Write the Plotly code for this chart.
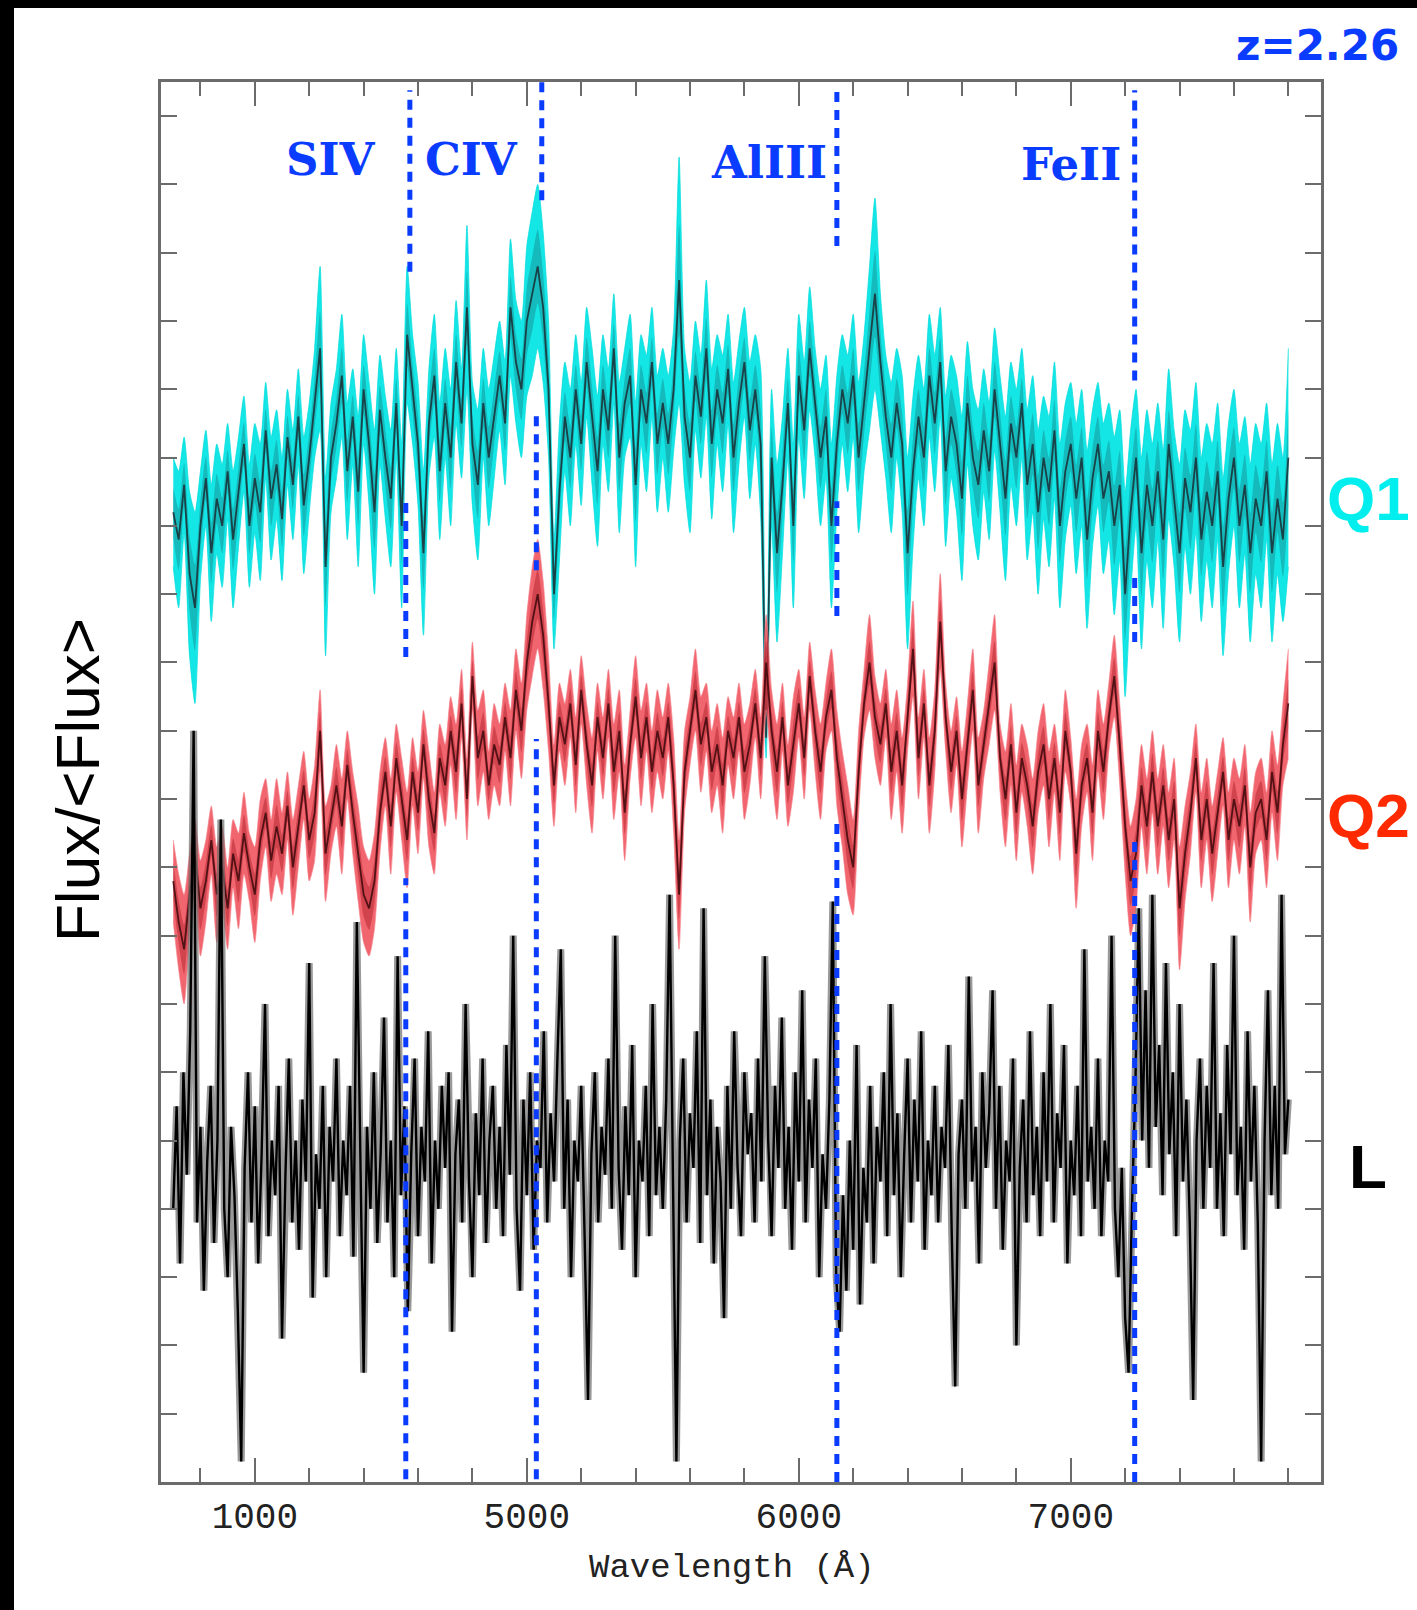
import numpy as np
import plotly.graph_objects as go

# ---------------- data ----------------
# wavelength grids (Angstrom)
wave_q = np.arange(3700, 7801, 20)        # Q1 / Q2 sampling
wave_l = np.arange(3700, 7800.1, 12.5)    # L sampling

# normalised flux of quasar Q1 and its 1-sigma error
q1_flux = [
    1.42, 1.38, 1.46, 1.33, 1.28, 1.40, 1.47, 1.36, 1.44, 1.40,
    1.48, 1.38, 1.45, 1.52, 1.40, 1.47, 1.42, 1.54, 1.44, 1.49,
    1.41, 1.53, 1.46, 1.56, 1.43, 1.50, 1.58, 1.66, 1.34, 1.50,
    1.55, 1.62, 1.48, 1.56, 1.45, 1.60, 1.52, 1.42, 1.57, 1.50,
    1.44, 1.58, 1.40, 1.68, 1.60, 1.52, 1.36, 1.55, 1.62, 1.48,
    1.58, 1.50, 1.64, 1.55, 1.72, 1.52, 1.46, 1.58, 1.50, 1.56,
    1.62, 1.55, 1.72, 1.64, 1.60, 1.70, 1.74, 1.78, 1.72, 1.60,
    1.30, 1.45, 1.56, 1.50, 1.60, 1.52, 1.64, 1.56, 1.48, 1.60,
    1.54, 1.66, 1.50, 1.58, 1.62, 1.46, 1.60, 1.55, 1.64, 1.52,
    1.58, 1.52, 1.60, 1.76, 1.56, 1.50, 1.62, 1.56, 1.66, 1.52,
    1.60, 1.55, 1.63, 1.50, 1.58, 1.64, 1.54, 1.60, 1.52, 1.09,
    1.50, 1.36, 1.46, 1.58, 1.40, 1.62, 1.54, 1.66, 1.58, 1.50,
    1.56, 1.40, 1.52, 1.60, 1.55, 1.62, 1.50, 1.58, 1.66, 1.74,
    1.64, 1.56, 1.50, 1.58, 1.52, 1.36, 1.48, 1.56, 1.50, 1.62,
    1.55, 1.64, 1.48, 1.56, 1.52, 1.44, 1.58, 1.50, 1.46, 1.54,
    1.48, 1.60, 1.52, 1.44, 1.55, 1.50, 1.58, 1.46, 1.52, 1.42,
    1.50, 1.45, 1.54, 1.40, 1.48, 1.52, 1.44, 1.50, 1.38, 1.47,
    1.52, 1.44, 1.48, 1.40, 1.46, 1.30, 1.42, 1.50, 1.36, 1.46,
    1.40, 1.48, 1.38, 1.52, 1.44, 1.36, 1.47, 1.42, 1.50, 1.38,
    1.45, 1.40, 1.48, 1.34, 1.44, 1.50, 1.40, 1.46, 1.36, 1.44,
    1.40, 1.48, 1.36, 1.44, 1.38, 1.50,
]
q1_err = [
    0.08, 0.10, 0.07, 0.12, 0.14, 0.08, 0.07, 0.10, 0.08, 0.09,
    0.07, 0.10, 0.08, 0.07, 0.09, 0.08, 0.10, 0.07, 0.09, 0.08,
    0.09, 0.07, 0.08, 0.07, 0.10, 0.08, 0.08, 0.12, 0.13, 0.08,
    0.08, 0.09, 0.10, 0.07, 0.11, 0.08, 0.09, 0.12, 0.08, 0.09,
    0.10, 0.08, 0.12, 0.10, 0.08, 0.09, 0.12, 0.08, 0.09, 0.10,
    0.08, 0.10, 0.09, 0.08, 0.12, 0.09, 0.11, 0.08, 0.10, 0.09,
    0.08, 0.09, 0.10, 0.09, 0.10, 0.11, 0.12, 0.12, 0.11, 0.10,
    0.08, 0.10, 0.08, 0.10, 0.08, 0.09, 0.08, 0.10, 0.11, 0.08,
    0.09, 0.08, 0.11, 0.08, 0.09, 0.12, 0.08, 0.10, 0.08, 0.10,
    0.08, 0.10, 0.09, 0.18, 0.10, 0.11, 0.08, 0.09, 0.10, 0.11,
    0.08, 0.10, 0.08, 0.11, 0.09, 0.08, 0.10, 0.08, 0.11, 0.03,
    0.10, 0.13, 0.10, 0.08, 0.12, 0.09, 0.10, 0.09, 0.08, 0.10,
    0.09, 0.12, 0.10, 0.08, 0.10, 0.09, 0.11, 0.10, 0.12, 0.14,
    0.10, 0.09, 0.11, 0.08, 0.10, 0.14, 0.11, 0.09, 0.10, 0.09,
    0.10, 0.08, 0.11, 0.09, 0.10, 0.12, 0.09, 0.10, 0.11, 0.09,
    0.10, 0.09, 0.10, 0.12, 0.09, 0.10, 0.08, 0.11, 0.10, 0.12,
    0.09, 0.11, 0.10, 0.12, 0.10, 0.09, 0.11, 0.10, 0.13, 0.10,
    0.09, 0.11, 0.10, 0.13, 0.11, 0.15, 0.12, 0.10, 0.14, 0.11,
    0.12, 0.10, 0.13, 0.11, 0.10, 0.13, 0.10, 0.12, 0.11, 0.12,
    0.10, 0.12, 0.10, 0.13, 0.11, 0.10, 0.12, 0.10, 0.13, 0.11,
    0.12, 0.10, 0.13, 0.11, 0.12, 0.16,
]

# normalised flux of quasar Q2 and its 1-sigma error
q2_flux = [
    0.88, 0.82, 0.78, 0.86, 0.92, 0.84, 0.88, 0.94, 0.86, 0.90,
    0.84, 0.92, 0.88, 0.95, 0.90, 0.86, 0.94, 0.98, 0.91, 0.96,
    0.92, 0.99, 0.90, 0.96, 1.02, 0.94, 0.98, 1.10, 0.92, 0.97,
    1.02, 0.96, 1.05, 0.98, 0.92, 0.86, 0.84, 0.88, 0.98, 1.04,
    0.96, 1.06, 1.00, 0.94, 1.04, 0.98, 1.08, 1.00, 0.95, 1.06,
    1.02, 1.10, 1.04, 1.14, 1.00, 1.18, 1.06, 1.10, 1.02, 1.08,
    1.05, 1.12, 1.06, 1.16, 1.10, 1.20, 1.26, 1.30, 1.24, 1.14,
    1.02, 1.12, 1.08, 1.14, 1.05, 1.16, 1.08, 1.02, 1.12, 1.06,
    1.14, 1.04, 1.10, 0.98, 1.08, 1.15, 1.06, 1.12, 1.04, 1.10,
    1.06, 1.12, 1.02, 0.86, 1.04, 1.10, 1.16, 1.08, 1.12, 1.04,
    1.08, 1.02, 1.10, 1.06, 1.12, 1.04, 1.08, 1.14, 1.06, 1.20,
    1.10, 1.04, 1.12, 1.02, 1.08, 1.14, 1.06, 1.18, 1.10, 1.04,
    1.12, 1.16, 1.06, 1.00, 0.94, 0.90, 1.04, 1.14, 1.20, 1.12,
    1.08, 1.14, 1.04, 1.10, 1.02, 1.12, 1.22, 1.06, 1.14, 1.02,
    1.10, 1.26, 1.12, 1.04, 1.10, 1.00, 1.08, 1.16, 1.02, 1.08,
    1.14, 1.20, 1.06, 1.00, 1.08, 0.98, 1.06, 1.02, 0.96, 1.04,
    1.08, 1.00, 1.06, 0.98, 1.10, 1.04, 0.92, 1.02, 1.06, 0.98,
    1.10, 1.04, 1.12, 1.18, 1.08, 0.96, 0.88, 0.92, 1.02, 0.96,
    1.04, 0.96, 1.02, 0.94, 1.00, 0.84, 0.92, 0.98, 1.06, 0.94,
    1.00, 0.92, 0.98, 1.04, 0.94, 1.00, 0.96, 1.02, 0.90, 0.98,
    1.00, 0.94, 1.04, 0.98, 1.08, 1.14,
]
q2_err = [
    0.06, 0.07, 0.08, 0.06, 0.05, 0.07, 0.06, 0.05, 0.07, 0.06,
    0.06, 0.05, 0.07, 0.06, 0.05, 0.07, 0.06, 0.05, 0.06, 0.07,
    0.06, 0.05, 0.07, 0.06, 0.05, 0.06, 0.07, 0.06, 0.07, 0.05,
    0.06, 0.07, 0.05, 0.06, 0.07, 0.07, 0.07, 0.07, 0.06, 0.05,
    0.07, 0.05, 0.06, 0.07, 0.05, 0.06, 0.05, 0.07, 0.06, 0.05,
    0.06, 0.05, 0.07, 0.05, 0.06, 0.05, 0.07, 0.06, 0.05, 0.06,
    0.06, 0.05, 0.07, 0.06, 0.07, 0.07, 0.08, 0.08, 0.08, 0.07,
    0.06, 0.05, 0.06, 0.05, 0.07, 0.05, 0.06, 0.07, 0.05, 0.06,
    0.05, 0.07, 0.06, 0.07, 0.05, 0.06, 0.07, 0.05, 0.06, 0.06,
    0.06, 0.05, 0.07, 0.08, 0.06, 0.05, 0.06, 0.07, 0.05, 0.06,
    0.06, 0.07, 0.05, 0.06, 0.05, 0.07, 0.06, 0.05, 0.06, 0.07,
    0.06, 0.07, 0.05, 0.06, 0.07, 0.05, 0.06, 0.05, 0.06, 0.07,
    0.05, 0.06, 0.07, 0.07, 0.08, 0.07, 0.06, 0.05, 0.07, 0.06,
    0.06, 0.05, 0.07, 0.06, 0.07, 0.05, 0.07, 0.06, 0.05, 0.07,
    0.06, 0.07, 0.05, 0.06, 0.05, 0.07, 0.06, 0.06, 0.07, 0.05,
    0.06, 0.07, 0.05, 0.07, 0.06, 0.07, 0.05, 0.06, 0.07, 0.06,
    0.06, 0.07, 0.05, 0.07, 0.06, 0.05, 0.08, 0.06, 0.05, 0.07,
    0.06, 0.07, 0.05, 0.06, 0.06, 0.07, 0.08, 0.08, 0.06, 0.07,
    0.06, 0.07, 0.06, 0.07, 0.06, 0.09, 0.07, 0.06, 0.05, 0.07,
    0.06, 0.07, 0.06, 0.05, 0.07, 0.06, 0.07, 0.06, 0.08, 0.06,
    0.06, 0.07, 0.06, 0.07, 0.06, 0.08,
]

# normalised flux of the comparison spectrum L
l_flux = [
    0.40, 0.55, 0.32, 0.60, 0.45, 0.66, 1.10, 0.38, 0.52, 0.28, 0.47, 0.58, 0.35, 0.50, 0.97, 0.40,
    0.30, 0.52, 0.42, 0.25, 0.03, 0.46, 0.60, 0.38, 0.55, 0.32, 0.48, 0.70, 0.36, 0.50, 0.42, 0.58,
    0.21, 0.45, 0.62, 0.38, 0.50, 0.34, 0.56, 0.44, 0.76, 0.27, 0.48, 0.40, 0.58, 0.30, 0.52, 0.44,
    0.62, 0.36, 0.50, 0.42, 0.58, 0.33, 0.82, 0.45, 0.16, 0.52, 0.40, 0.60, 0.35, 0.48, 0.68, 0.38,
    0.50, 0.30, 0.77, 0.42, 0.55, 0.25, 0.48, 0.62, 0.36, 0.52, 0.44, 0.66, 0.32, 0.50, 0.40, 0.58,
    0.46, 0.60, 0.22, 0.48, 0.56, 0.38, 0.70, 0.44, 0.30, 0.54, 0.42, 0.62, 0.35, 0.50, 0.58, 0.40,
    0.52, 0.36, 0.64, 0.45, 0.80, 0.40, 0.28, 0.56, 0.42, 0.60, 0.34, 0.50, 0.46, 0.66, 0.38, 0.54,
    0.44, 0.62, 0.78, 0.40, 0.56, 0.30, 0.50, 0.44, 0.58, 0.36, 0.12, 0.48, 0.60, 0.38, 0.52, 0.45,
    0.62, 0.40, 0.80, 0.46, 0.34, 0.55, 0.42, 0.64, 0.30, 0.50, 0.44, 0.58, 0.36, 0.70, 0.42, 0.52,
    0.40, 0.56, 0.86, 0.44, 0.03, 0.50, 0.62, 0.38, 0.54, 0.46, 0.66, 0.35, 0.84, 0.42, 0.56, 0.32,
    0.52, 0.44, 0.24, 0.58, 0.40, 0.66, 0.46, 0.36, 0.60, 0.48, 0.54, 0.38, 0.62, 0.44, 0.77, 0.50,
    0.36, 0.58, 0.46, 0.68, 0.40, 0.52, 0.34, 0.60, 0.44, 0.72, 0.38, 0.56, 0.46, 0.62, 0.30, 0.48,
    0.40, 0.56, 0.85, 0.30, 0.22, 0.42, 0.28, 0.50, 0.34, 0.64, 0.26, 0.46, 0.38, 0.58, 0.32, 0.52,
    0.44, 0.60, 0.36, 0.70, 0.42, 0.54, 0.30, 0.48, 0.62, 0.38, 0.56, 0.44, 0.66, 0.34, 0.50, 0.42,
    0.58, 0.38, 0.52, 0.46, 0.64, 0.36, 0.14, 0.48, 0.56, 0.40, 0.74, 0.44, 0.52, 0.32, 0.60, 0.46,
    0.54, 0.72, 0.40, 0.58, 0.34, 0.50, 0.44, 0.62, 0.20, 0.46, 0.56, 0.38, 0.66, 0.42, 0.52, 0.36,
    0.60, 0.44, 0.70, 0.38, 0.54, 0.46, 0.64, 0.32, 0.50, 0.42, 0.58, 0.36, 0.78, 0.44, 0.52, 0.40,
    0.62, 0.36, 0.50, 0.44, 0.80, 0.40, 0.30, 0.46, 0.24, 0.16, 0.40, 0.58, 0.84, 0.50, 0.72, 0.46,
    0.86, 0.52, 0.64, 0.42, 0.76, 0.48, 0.60, 0.36, 0.70, 0.44, 0.56, 0.38, 0.12, 0.50, 0.62, 0.40,
    0.58, 0.46, 0.76, 0.40, 0.54, 0.36, 0.64, 0.48, 0.80, 0.42, 0.52, 0.34, 0.66, 0.44, 0.58, 0.38,
    0.03, 0.50, 0.72, 0.42, 0.58, 0.40, 0.86, 0.48, 0.56,
]

# absorption-line markers at z = 2.26 (observed wavelength, upper / lower part)
line_names = ["SIV", "CIV", "AlIII", "FeII"]
line_wave_top = [4570, 5055, 6140, 7235]
line_wave_low = [4555, 5035, 6140, 7235]
# vertical extent of the marker pieces (flux units): top, middle, bottom
line_pieces = [
    [(2.038, 1.772), (1.438, 1.208), (0.884, 0.004)],
    [(2.050, 1.877), (1.561, 1.335), (1.088, 0.004)],
    [(2.042, 1.810), (1.436, 1.268), (0.975, 0.000)],
    [(2.038, 1.613), (1.335, 1.230), (0.937, 0.000)],
]
line_label_wave = [4280, 4795, 5890, 7000]

x_tick_vals = [4000, 5000, 6000, 7000]
x_tick_text = ["1000", "5000", "6000", "7000"]
y_tick_vals = [round(0.1 * k, 1) for k in range(1, 21)]

# ---------------- figure ----------------
W, H = 1417, 1610
ML, MR, MT, MB = 161, 96, 82, 128
XR = [3655, 7920]
YR = [0, 2.05]

fig = go.Figure()


def add_band(wave, flux, err, fill, edge, inner, core):
    flux = np.asarray(flux)
    err = np.asarray(err)
    spl = dict(shape="spline", smoothing=0.6)
    fig.add_trace(go.Scatter(x=wave, y=flux - err, mode="lines",
                             line=dict(width=0.8, color=edge, **spl), hoverinfo="skip"))
    fig.add_trace(go.Scatter(x=wave, y=flux + err, mode="lines", fill="tonexty",
                             fillcolor=fill,
                             line=dict(width=0.8, color=edge, **spl), hoverinfo="skip"))
    # darker inner part of the error band
    fig.add_trace(go.Scatter(x=wave, y=flux - 0.45 * err, mode="lines",
                             line=dict(width=0, **spl), hoverinfo="skip"))
    fig.add_trace(go.Scatter(x=wave, y=flux + 0.45 * err, mode="lines", fill="tonexty",
                             fillcolor=inner, line=dict(width=0, **spl), hoverinfo="skip"))
    fig.add_trace(go.Scatter(x=wave, y=flux, mode="lines",
                             line=dict(width=1.8, color=core), hoverinfo="skip"))


add_band(wave_q, q1_flux, q1_err, "rgba(0,228,228,0.92)", "rgba(0,220,220,0.9)",
         "rgba(20,120,125,0.40)", "rgba(25,45,50,0.85)")
add_band(wave_q, q2_flux, q2_err, "rgba(236,50,62,0.75)", "rgba(245,130,140,0.8)",
         "rgba(150,10,20,0.35)", "rgba(60,8,12,0.85)")

# L spectrum: grey halo under a black core line
fig.add_trace(go.Scatter(x=wave_l, y=l_flux, mode="lines",
                         line=dict(width=7, color="rgba(110,110,110,0.7)"), hoverinfo="skip"))
fig.add_trace(go.Scatter(x=wave_l, y=l_flux, mode="lines",
                         line=dict(width=2.4, color="black"), hoverinfo="skip"))

# dashed line markers
blue = "#0a3cff"
shapes = []
for wt, wl, pieces in zip(line_wave_top, line_wave_low, line_pieces):
    for k, (y1, y0) in enumerate(pieces):
        xw = wt if k == 0 else wl
        shapes.append(dict(type="line", xref="x", yref="y", x0=xw, x1=xw, y0=y0, y1=y1,
                           line=dict(color=blue, width=5, dash="10px,8px")))


def px_to_paper_x(px):
    return (px - ML) / (W - ML - MR)


def px_to_paper_y(py):
    return (H - MB - py) / (H - MT - MB)


# black frame strips on the left and top edges
shapes.append(dict(type="rect", xref="paper", yref="paper",
                   x0=px_to_paper_x(0), x1=px_to_paper_x(14),
                   y0=px_to_paper_y(H), y1=px_to_paper_y(0),
                   fillcolor="black", line=dict(width=0), layer="above"))
shapes.append(dict(type="rect", xref="paper", yref="paper",
                   x0=px_to_paper_x(0), x1=px_to_paper_x(W),
                   y0=px_to_paper_y(8), y1=px_to_paper_y(0),
                   fillcolor="black", line=dict(width=0), layer="above"))

annotations = []
for name, lw, py in zip(line_names, line_label_wave, [159, 159, 162, 164]):
    annotations.append(dict(x=lw, y=px_to_paper_y(py), xref="x", yref="paper",
                            text="<b>%s</b>" % name, showarrow=False,
                            font=dict(family="DejaVu Serif", size=45, color=blue),
                            xanchor="center", yanchor="middle"))

annotations.append(dict(x=px_to_paper_x(1317), y=px_to_paper_y(46), xref="paper", yref="paper",
                        text="<b>z=2.26</b>", showarrow=False,
                        font=dict(family="DejaVu Sans", size=42, color=blue),
                        xanchor="center", yanchor="middle"))

for txt, col, py in [("Q1", "#00eeee", 498), ("Q2", "#ff2a00", 816), ("L", "black", 1166)]:
    annotations.append(dict(x=px_to_paper_x(1368), y=px_to_paper_y(py), xref="paper", yref="paper",
                            text="<b>%s</b>" % txt, showarrow=False,
                            font=dict(family="Liberation Sans", size=62, color=col),
                            xanchor="center", yanchor="middle"))

annotations.append(dict(x=px_to_paper_x(77), y=px_to_paper_y(780), xref="paper", yref="paper",
                        text="Flux/&lt;Flux&gt;", showarrow=False, textangle=-90,
                        font=dict(family="Liberation Sans", size=62, color="black"),
                        xanchor="center", yanchor="middle"))

annotations.append(dict(x=px_to_paper_x(732), y=px_to_paper_y(1568), xref="paper", yref="paper",
                        text="Wavelength (Å)", showarrow=False,
                        font=dict(family="Liberation Mono", size=34, color="#222222"),
                        xanchor="center", yanchor="middle"))

axis_col = "#6b6b6b"
fig.update_layout(
    width=W, height=H,
    margin=dict(l=ML, r=MR, t=MT, b=MB, pad=0),
    paper_bgcolor="white", plot_bgcolor="white",
    showlegend=False,
    shapes=shapes,
    annotations=annotations,
    xaxis=dict(range=XR, showgrid=False, zeroline=False,
               showline=True, linewidth=3, linecolor=axis_col, mirror="ticks",
               ticks="inside", ticklen=24, tickwidth=2, tickcolor=axis_col,
               tickvals=x_tick_vals, ticktext=x_tick_text,
               tickfont=dict(family="Liberation Mono", size=36, color="#222222"),
               minor=dict(dtick=200, tick0=0, ticks="inside", ticklen=14, tickwidth=2,
                          tickcolor=axis_col, showgrid=False)),
    yaxis=dict(range=YR, showgrid=False, zeroline=False,
               showline=True, linewidth=3, linecolor=axis_col, mirror="ticks",
               ticks="inside", ticklen=16, tickwidth=2, tickcolor=axis_col,
               tickvals=y_tick_vals, showticklabels=False),
)

fig.write_html("out.html")
